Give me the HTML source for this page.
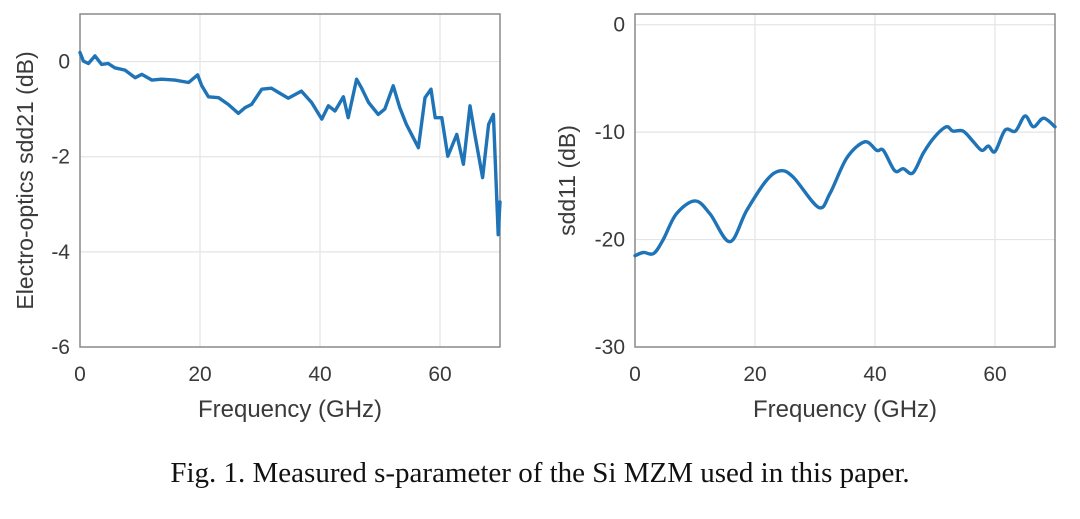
<!DOCTYPE html>
<html><head><meta charset="utf-8"><style>
body{margin:0;background:#fff;width:1080px;height:519px;overflow:hidden}
svg{display:block}
</style></head><body>
<svg id="fig" width="1080" height="519" font-family="'Liberation Sans', sans-serif">
<text x="540" y="482" text-anchor="middle" font-family="'Liberation Serif', serif" font-size="29" fill="#111">Fig. 1. Measured s-parameter of the Si MZM used in this paper.</text>
</svg>
<script>
const xTicks=[0,20,40,60];
const leftYTicks=[0,-2,-4,-6];
const rightYTicks=[0,-10,-20,-30];
const leftFreq=[0,0.56,1.4,2.5,3.6,4.7,5.8,7.5,9.2,10.3,12,13.6,15.8,18.1,19.6,20.3,21.4,23.1,24.7,26.4,27.5,28.6,30.3,31.9,33.1,34.7,36.9,38.6,40.3,41.4,42.5,43.9,44.7,46.1,46.9,48.1,49.7,50.8,52.2,53.3,54.4,56.4,57.5,58.5,59.2,60.3,61.3,62.8,63.9,65,65.8,67.1,68.1,68.9,69.7,70];
const leftSdd21=[0.19,0.01,-0.04,0.12,-0.06,-0.04,-0.13,-0.18,-0.34,-0.27,-0.39,-0.37,-0.39,-0.44,-0.28,-0.51,-0.74,-0.76,-0.9,-1.09,-0.97,-0.9,-0.58,-0.56,-0.65,-0.77,-0.62,-0.86,-1.21,-0.93,-1.04,-0.74,-1.18,-0.37,-0.55,-0.86,-1.11,-1.0,-0.51,-0.97,-1.32,-1.81,-0.76,-0.58,-1.18,-1.18,-1.99,-1.53,-2.16,-0.93,-1.53,-2.44,-1.32,-1.11,-3.64,-2.95];
const rightFreq=[0,1.4,3.1,4.7,6.9,10,12.5,15.8,18.6,21.9,24.2,26.4,30.6,32.5,35.3,38.3,40.3,41.4,43.3,44.7,46.3,48.1,50,51.9,53,54.7,56.4,57.8,58.9,60,61.7,63.4,65,66.4,68.1,70];
const rightSdd11=[-21.5,-21.2,-21.3,-20,-17.6,-16.4,-17.6,-20.2,-17.3,-14.5,-13.6,-14.2,-17.0,-15.7,-12.4,-10.9,-11.7,-11.7,-13.6,-13.4,-13.8,-11.9,-10.4,-9.5,-9.9,-9.9,-10.9,-11.7,-11.3,-11.8,-9.8,-9.9,-8.5,-9.5,-8.7,-9.5];

const NS='http://www.w3.org/2000/svg';
const svg=document.getElementById('fig');
function mk(tag,attrs,parent){const e=document.createElementNS(NS,tag);for(const k in attrs)e.setAttribute(k,attrs[k]);(parent||svg).appendChild(e);return e;}
function smoothPath(pts){
  let d='M'+pts[0][0].toFixed(1)+','+pts[0][1].toFixed(1);
  for(let i=0;i<pts.length-1;i++){
    const p0=pts[Math.max(0,i-1)],p1=pts[i],p2=pts[i+1],p3=pts[Math.min(pts.length-1,i+2)];
    const c1=[p1[0]+(p2[0]-p0[0])/6,p1[1]+(p2[1]-p0[1])/6];
    const c2=[p2[0]-(p3[0]-p1[0])/6,p2[1]-(p3[1]-p1[1])/6];
    d+=' C'+c1.map(v=>v.toFixed(1)).join(',')+' '+c2.map(v=>v.toFixed(1)).join(',')+' '+p2.map(v=>v.toFixed(1)).join(',');
  }
  return d;
}

function plot(cfg){
  const g=mk('g',{});
  
  
  const L=cfg.left,R=cfg.right,T=14,B=347;
  const sx=v=>L+(v-0)/(70-0)*(R-L);
  const sy=v=>T+(cfg.ymax-v)/(cfg.ymax-cfg.ymin)*(B-T);
  mk('rect',{x:L,y:T,width:R-L,height:B-T,fill:'#fff'},g);
  xTicks.forEach(t=>{
    const l=mk('line',{x1:sx(t),x2:sx(t),y1:T,y2:B,stroke:'#e4e4e4','stroke-width':1.2},g);
    
    
    const tx=mk('text',{x:sx(t),y:381,'text-anchor':'middle','font-size':21,fill:'#3a3a3a'},g);
    tx.textContent=t;
    
    
  });
  cfg.yTicks.forEach(t=>{
    const l=mk('line',{x1:L,x2:R,y1:sy(t),y2:sy(t),stroke:'#e4e4e4','stroke-width':1.2},g);
    
    
    const tx=mk('text',{x:L-10,y:sy(t)+7,'text-anchor':'end','font-size':21,fill:'#3a3a3a'},g);
    tx.textContent=t;
    
    
  });
  const box=mk('rect',{x:L,y:T,width:R-L,height:B-T,fill:'none',stroke:'#8a8a8a','stroke-width':1.5},g);
  
  
  const pts=cfg.xs.map((x,i)=>[sx(x),sy(cfg.ys[i])]);
  const d=cfg.smooth?smoothPath(pts):pts.map((p,i)=>(i?'L':'M')+p[0].toFixed(1)+','+p[1].toFixed(1)).join(' ');
  const p=mk('path',{d:d,fill:'none',stroke:'#1f74b8','stroke-width':3.4,'stroke-linejoin':'round','stroke-linecap':'round'},g);
  
  
  const xt=mk('text',{x:(L+R)/2,y:417,'text-anchor':'middle','font-size':24,fill:'#3a3a3a'},g);
  xt.textContent='Frequency (GHz)';
  
  
  const yt=mk('text',{x:0,y:0,'text-anchor':'middle','font-size':23,fill:'#3a3a3a',transform:'translate('+cfg.ytx+','+((T+B)/2)+') rotate(-90)'},g);
  yt.textContent=cfg.ytitle;
  
  
}
plot({name:'sdd21-chart',lineName:'sdd21-line',left:80,right:500,ymax:1,ymin:-6,yTicks:leftYTicks,xs:leftFreq,ys:leftSdd21,ytitle:'Electro-optics sdd21 (dB)',ytx:33,smooth:false});
plot({name:'sdd11-chart',lineName:'sdd11-line',left:635,right:1055,ymax:1,ymin:-30,yTicks:rightYTicks,xs:rightFreq,ys:rightSdd11,ytitle:'sdd11 (dB)',ytx:575,smooth:true});
</script>
</body></html>
